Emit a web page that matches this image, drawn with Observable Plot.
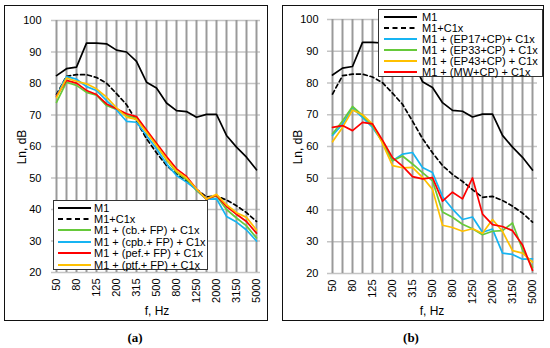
<!DOCTYPE html>
<html><head><meta charset="utf-8">
<script src="https://cdn.jsdelivr.net/npm/d3@7"></script>
<script src="https://cdn.jsdelivr.net/npm/@observablehq/plot@0.6"></script>
<style>
body{margin:0;background:#fff;font-family:"Liberation Sans",Arial,sans-serif}
#wrap{position:relative;width:550px;height:348px;overflow:hidden;background:#fff}
.box{position:absolute;border:1.5px solid #111;box-sizing:border-box}
.svgholder{position:absolute}
.legend{position:absolute;background:#fff;border:1px solid #333;box-sizing:border-box;font-size:11px;color:#000}
.row{position:absolute;white-space:nowrap;height:12px;line-height:12px}
.row svg{position:absolute;top:0}
.row span{position:absolute;top:0}
.ytitle{position:absolute;font-size:12px;transform:translate(-50%,-50%) rotate(-90deg);white-space:nowrap}
.xtitle{position:absolute;font-size:12px;transform:translate(-50%,-50%);white-space:nowrap}
.cap{position:absolute;font-family:"Liberation Serif","Times New Roman",serif;font-weight:bold;font-size:13px;transform:translate(-50%,-50%)}
</style></head>
<body><div id="wrap"></div>
<script>
// ---- data ----
const freqs = ["50","63","80","100","125","160","200","250","315","400","500","630","800","1000","1250","1600","2000","2500","3150","4000","5000"];
const xTickLabels = ["50","80","125","200","315","500","800","1250","2000","3150","5000"];
const yTicks = [20,30,40,50,60,70,80,90,100];

const m1    = [82.5,84.7,85.2,92.8,92.8,92.6,90.6,90,87,80.4,78.6,73.8,71.4,71.1,69.3,70.2,70.2,63.5,59.8,56.6,52.6];
const m1c1x = [76.5,82.3,82.8,82.8,81.9,80.1,76.8,73.3,68,62.5,58,54,51.2,49,46.4,44,44.3,43,41.2,39,36.2];

// panel (a)
const cbFP  = [74,80.4,79.4,77.2,76.3,73,71.8,69.8,69.1,64.8,60.3,55.8,51.8,49.6,46,43.3,44.3,40,37.3,34.8,31];
const cpbFP = [76,82.2,81.4,79,77.8,74.6,71.6,68,67.7,63.5,59.3,54.5,50.8,48.7,46.3,43.3,43.4,37.8,36,33.5,30];
const pefFP = [76,81,80.1,77.8,76.5,73.5,72,70.4,69.5,65.2,61,56.8,52.9,50.5,46.5,43.3,44.5,41,38.5,36.2,32.5];
const ptfFP = [75.5,81.7,80.7,79.9,78.3,75.7,72.3,69.3,68.6,64.5,60.3,56,52.2,50,46.5,43.3,44.8,41.5,39,37.5,33.5];

// panel (b)
const ep17CP = [63.5,67,72,69.2,66,61.5,55.5,57.6,58.1,53.4,51.8,44.2,40.3,37,37.8,33,34,26.4,26,24.5,24.6];
const ep33CP = [64,68,72.6,69.8,66.5,61.5,55.5,57,54.5,51.8,49.2,39.4,37.7,35.5,34.1,32.2,33.3,33.5,35.9,27.5,22];
const ep43CP = [61.5,66,71.5,70,67.1,61,54,53.3,53.4,50.3,46.5,35.2,34.5,33.3,34.1,32.7,37,33.3,27.2,26.4,23.6];
const mwCP   = [66,66.6,65,67.6,67.1,62,56.5,53.8,50.5,49.8,50.2,42.8,45.6,43.5,50.1,38.7,35.4,34.8,33.5,29,21];

const seriesA = [
  {name:"M1", values:m1, color:"#000000", dash:null},
  {name:"M1+C1x", values:m1c1x, color:"#000000", dash:"4,3"},
  {name:"M1 + (cb.+ FP) + C1x", values:cbFP, color:"#66c93a", dash:null},
  {name:"M1 + (cpb.+ FP) + C1x", values:cpbFP, color:"#16b4f2", dash:null},
  {name:"M1 + (pef.+ FP) + C1x", values:pefFP, color:"#ff0000", dash:null},
  {name:"M1 + (ptf.+ FP) + C1x", values:ptfFP, color:"#ffc000", dash:null}
];
const seriesB = [
  {name:"M1", values:m1, color:"#000000", dash:null},
  {name:"M1+C1x", values:m1c1x, color:"#000000", dash:"4,3"},
  {name:"M1 + (EP17+CP)+ C1x", values:ep17CP, color:"#16b4f2", dash:null},
  {name:"M1 + (EP33+CP) + C1x", values:ep33CP, color:"#66c93a", dash:null},
  {name:"M1 + (EP43+CP) + C1x", values:ep43CP, color:"#ffc000", dash:null},
  {name:"M1 + (MW+CP) + C1x", values:mwCP, color:"#ff0000", dash:null}
];

const wrap = document.getElementById("wrap");

function panel(series, L) {
  const box = document.createElement("div");
  box.className = "box";
  Object.assign(box.style, {left:L.bx+"px", top:L.by+"px", width:L.bw+"px", height:L.bh+"px"});
  wrap.appendChild(box);

  const marks = [
    Plot.ruleY(yTicks, {stroke:"#c4c4c4", strokeWidth:1.5}),
    Plot.ruleX(freqs, {stroke:"#9a9a9a", strokeWidth:2}),
    Plot.axisY({ticks:yTicks, tickSize:0, tickPadding:L.ypad, label:null}),
    Plot.axisX({ticks:xTickLabels, tickRotate:-90, tickSize:0, tickPadding:6, label:null})
  ];
  for (const s of series) {
    const data = freqs.map((f,i)=>({f, v:s.values[i]}));
    marks.push(Plot.line(data, {x:"f", y:"v", stroke:s.color, strokeWidth:1.7,
      strokeDasharray:s.dash || undefined, strokeLinejoin:"round"}));
  }
  const svg = Plot.plot({
    width:L.w, height:L.h,
    marginLeft:L.ml, marginRight:L.mr, marginTop:L.mt, marginBottom:L.mb,
    x:{type:"point", domain:freqs, padding:0},
    y:{domain:[20,100]},
    style:{fontFamily:"'Liberation Sans', Arial, sans-serif", fontSize:"11px", color:"#000", background:"transparent", overflow:"visible"},
    marks
  });
  const holder = document.createElement("div");
  holder.className = "svgholder";
  holder.style.left = L.sx+"px"; holder.style.top = L.sy+"px";
  holder.appendChild(svg);
  wrap.appendChild(holder);

  // axis titles
  const yt = document.createElement("div");
  yt.className = "ytitle"; yt.textContent = "Ln, dB";
  yt.style.left = L.ytx+"px"; yt.style.top = L.yty+"px";
  wrap.appendChild(yt);
  const xt = document.createElement("div");
  xt.className = "xtitle"; xt.textContent = "f, Hz";
  xt.style.left = L.xtx+"px"; xt.style.top = L.xty+"px";
  wrap.appendChild(xt);

  // legend
  const lg = document.createElement("div");
  lg.className = "legend";
  Object.assign(lg.style, {left:L.lx+"px", top:L.ly+"px", width:L.lw+"px", height:L.lh+"px"});
  series.forEach((s,i)=>{
    const row = document.createElement("div");
    row.className = "row";
    row.style.top = (L.r0 + i*L.rs - 6)+"px";
    row.style.left = "0px";
    row.innerHTML = `<svg width="${L.sw1+2}" height="12" style="left:0"><line x1="${L.sw0}" x2="${L.sw1}" y1="6" y2="6" stroke="${s.color}" stroke-width="2" ${s.dash?`stroke-dasharray="5,3.5"`:""}/></svg><span style="left:${L.tx}px">${s.name}</span>`;
    lg.appendChild(row);
  });
  wrap.appendChild(lg);

  // caption
  const cap = document.createElement("div");
  cap.className = "cap"; cap.textContent = L.cap;
  cap.style.left = L.cx+"px"; cap.style.top = L.cy+"px";
  wrap.appendChild(cap);
}

panel(seriesA, {
  bx:4, by:5, bw:264, bh:316,
  sx:4, sy:5, w:264, h:316, ml:47, mr:8, mt:15, mb:49, ypad:10,
  ytx:22, yty:147, xtx:157, xty:311,
  lx:53, ly:200, lw:155, lh:70, r0:6.5, rs:11.4, sw0:4, sw1:37, tx:40,
  cap:"(a)", cx:135, cy:338
});
panel(seriesB, {
  bx:282, by:5, bw:262, bh:316,
  sx:282, sy:5, w:262, h:316, ml:45, mr:7, mt:14, mb:48, ypad:9,
  ytx:298, yty:147, xtx:432, xty:311,
  lx:378, ly:9, lw:165, lh:68, r0:6.5, rs:11, sw0:5, sw1:38, tx:43,
  cap:"(b)", cx:411, cy:338
});
</script></body></html>
